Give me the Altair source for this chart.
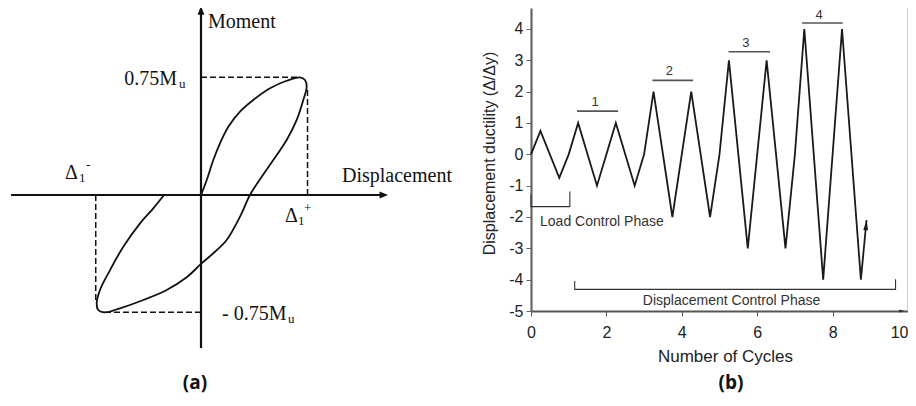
import altair as alt
import pandas as pd

# ---------------- Panel (a): schematic moment-displacement loop ----------------
# displacement in units of Delta1+, moment in units of Mu
loop_x = [0, 0.054, 0.116, 0.179, 0.258, 0.368, 0.493, 0.651, 0.808, 0.934, 0.981, 0.997,
          0.965, 0.903, 0.808, 0.682, 0.573, 0.462, 0.368, 0.242, 0.132, 0.0, -0.135, -0.324,
          -0.544, -0.764, -0.906, -0.969, -0.984, -0.953, -0.858, -0.733, -0.575, -0.45, -0.349]
loop_y = [0, 0.096, 0.223, 0.33, 0.436, 0.532, 0.606, 0.681, 0.729, 0.751, 0.734, 0.691,
          0.606, 0.479, 0.351, 0.223, 0.117, 0, -0.138, -0.287, -0.362, -0.44, -0.525, -0.606,
          -0.67, -0.723, -0.749, -0.734, -0.691, -0.606, -0.479, -0.33, -0.181, -0.085, 0]

axis_x1 = [-1.792, 0]
axis_y1 = [0, -0.976]
axis_x2 = [1.74, 0]
axis_y2 = [0, 1.18]

arrow_right_x = [1.764]
arrow_right_y = [0]
arrow_up_x = [0]
arrow_up_y = [1.206]

dash_x1 = [0, 1.005, -0.993, -0.906]
dash_y1 = [0.751, 0.67, 0, -0.749]
dash_x2 = [0.934, 1.005, -0.993, 0.02]
dash_y2 = [0.751, 0, -0.68, -0.749]

a_text = ["Moment", "Displacement", "u", "u", "Δ", "1", "-", "Δ", "1", "+"]
a_text_x = [0.066, 1.330, -0.208, 0.821, -1.283, -1.151, -1.085, 0.792, 0.915, 0.972]
a_text_y = [1.103, 0.120, 0.710, -0.793, 0.141, 0.107, 0.191, -0.135, -0.165, -0.086]
a_text_size = [20, 20, 13, 13, 20, 13, 13, 20, 13, 13]

a_rtext = ["0.75M", "- 0.75M"]
a_rtext_x = [-0.226, 0.807]
a_rtext_y = [0.739, -0.761]

a_label = ["(a)"]
a_label_x = [-0.057]
a_label_y = [-1.20]

# ---------------- Panel (b): loading protocol ----------------
cycles = [0, 0.25, 0.75, 1, 1.25, 1.75, 2.25, 2.75, 3, 3.25, 3.75, 4.25, 4.75, 5,
          5.25, 5.75, 6.25, 6.75, 7, 7.25, 7.75, 8.25, 8.75, 8.9]
ductility = [0, 0.75, -0.75, 0, 1, -1, 1, -1, 0, 2, -2, 2, -2, 0,
             3, -3, 3, -3, 0, 4, -4, 4, -4, -2.1]

end_arrow_x = [8.9]
end_arrow_y = [-2.1]

level_names = ["1", "2", "3", "4"]
level_bar_x1 = [1.22, 3.22, 5.24, 7.19]
level_bar_x2 = [2.31, 4.30, 6.34, 8.27]
level_bar_y = [1.38, 2.36, 3.275, 4.19]
level_text_x = [1.70, 3.67, 5.70, 7.64]
level_text_y = [1.68, 2.67, 3.56, 4.45]

bracket_x = [0, 0, 1.03, 1.03, 1.16, 1.16, 9.67, 9.67]
bracket_y = [-1.28, -1.67, -1.67, -1.19, -4.04, -4.31, -4.31, -3.99]
bracket_g = ["load"] * 4 + ["disp"] * 4

phase_left_text = ["Load Control Phase"]
phase_left_x = [0.24]
phase_left_y = [-2.15]
phase_center_text = ["Displacement Control Phase"]
phase_center_x = [5.32]
phase_center_y = [-4.67]

border_x = [10]
xaxis_arrow_x = [9.92]
xaxis_arrow_y = [-5]

b_label = ["(b)"]
b_label_x = [5.305]
b_label_y = [-7.30]

x_ticks = [0, 2, 4, 6, 8, 10]
y_ticks = [-5, -4, -3, -2, -1, 0, 1, 2, 3, 4]

# ---------------- scales ----------------
AXS = alt.Scale(domain=[0, 1], range=[201 - 531, 307 - 531], nice=False, zero=False)
AYS = alt.Scale(domain=[0, 1], range=[187, 30.3], nice=False, zero=False)


def ax(f="x"):
    return alt.X(f"{f}:Q", scale=AXS, axis=None)


def ay(f="y"):
    return alt.Y(f"{f}:Q", scale=AYS, axis=None)


SANS = "Liberation Sans"
SERIF = "Liberation Serif"

XAXIS = alt.Axis(values=x_ticks, title="Number of Cycles", grid=False, labelFlush=False,
                 labelOverlap=False, labelExpr="datum.value + ''",
                 labelAlign={"condition": {"test": "datum.value == 10", "value": "right"},
                             "value": "center"},
                 labelFontSize=16, titleFontSize=17, titleFontWeight="normal",
                 labelFont=SANS, titleFont=SANS, tickSize=5, labelPadding=8,
                 domainColor="#555", domainWidth=2, tickColor="#555", tickWidth=1,
                 labelColor="#222", titleColor="#222", titleBaseline="middle",
                 titleX=194, titleY=45.5)
YAXIS = alt.Axis(values=y_ticks, title="Displacement ductility (Δ/Δy)", grid=False,
                 labelFlush=False, labelOverlap=False, labelExpr="datum.value + ''",
                 labelFontSize=16, titleFontSize=16,
                 titleFontWeight="normal", labelFont=SANS, titleFont=SANS, tickSize=5,
                 labelPadding=3, domainColor="#666", domainWidth=2.2, tickColor="#666",
                 tickWidth=1, labelColor="#222", titleColor="#222", titleBaseline="middle",
                 titleAngle=270, titleX=-42, titleY=145)
BXS = alt.Scale(domain=[0, 10], nice=False, zero=False)
BYS = alt.Scale(domain=[-5, 4.67], nice=False, zero=False)


def bx(f="x"):
    return alt.X(f"{f}:Q", scale=BXS, axis=XAXIS)


def by(f="y"):
    return alt.Y(f"{f}:Q", scale=BYS, axis=YAXIS)


# ---------------- panel (a) layers ----------------
loop_df = pd.DataFrame({"x": loop_x, "y": loop_y, "o": list(range(len(loop_x)))})
loop = alt.Chart(loop_df).mark_line(color="#111", strokeWidth=1.8, interpolate="catmull-rom").encode(
    x=ax(), y=ay(), order="o:Q")

axes_df = pd.DataFrame({"x": axis_x1, "y": axis_y1, "x2": axis_x2, "y2": axis_y2})
axes_a = alt.Chart(axes_df).mark_rule(color="#111", strokeWidth=2.2).encode(
    x=ax(), y=ay(), x2="x2:Q", y2="y2:Q")

arr_r = alt.Chart(pd.DataFrame({"x": arrow_right_x, "y": arrow_right_y})).mark_point(
    shape="M0,0 L-2.1,-0.9 L-2.1,0.9 Z", size=64, filled=True, color="#111", opacity=1,
    strokeWidth=0).encode(x=ax(), y=ay())
arr_u = alt.Chart(pd.DataFrame({"x": arrow_up_x, "y": arrow_up_y})).mark_point(
    shape="M0,0 L-0.85,2.2 L0.85,2.2 Z", size=64, filled=True, color="#111", opacity=1,
    strokeWidth=0).encode(x=ax(), y=ay())

dash_df = pd.DataFrame({"x": dash_x1, "y": dash_y1, "x2": dash_x2, "y2": dash_y2})
dashes = alt.Chart(dash_df).mark_rule(color="#111", strokeWidth=1.5, strokeDash=[6, 3]).encode(
    x=ax(), y=ay(), x2="x2:Q", y2="y2:Q")

at_df = pd.DataFrame({"t": a_text, "x": a_text_x, "y": a_text_y, "s": a_text_size})
a_texts = alt.Chart(at_df).mark_text(align="left", baseline="middle", font=SERIF, color="#111").encode(
    x=ax(), y=ay(), text="t:N", size=alt.Size("s:Q", scale=None, legend=None))

art_df = pd.DataFrame({"t": a_rtext, "x": a_rtext_x, "y": a_rtext_y})
a_rtexts = alt.Chart(art_df).mark_text(align="right", baseline="middle", font=SERIF, fontSize=20,
                                       color="#111").encode(x=ax(), y=ay(), text="t:N")

a_lab = alt.Chart(pd.DataFrame({"t": a_label, "x": a_label_x, "y": a_label_y})).mark_text(
    align="center", baseline="middle", font="Open Sans", fontSize=19, fontWeight="bold",
    color="#111").encode(x=ax(), y=ay(), text="t:N")

panel_a = alt.layer(loop, axes_a, arr_r, arr_u, dashes, a_texts, a_rtexts, a_lab)

# ---------------- panel (b) layers ----------------
zz_df = pd.DataFrame({"x": cycles, "y": ductility, "o": list(range(len(cycles)))})
zigzag = alt.Chart(zz_df).mark_line(color="#1a1a1a", strokeWidth=1.8).encode(
    x=bx(), y=by(), order="o:Q")

end_arrow = alt.Chart(pd.DataFrame({"x": end_arrow_x, "y": end_arrow_y})).mark_point(
    shape="M0,0 L-1.2,5 L1.2,5 Z", size=16, filled=True, color="#1a1a1a", opacity=1,
    strokeWidth=0, angle=5).encode(x=bx(), y=by())

bars_df = pd.DataFrame({"x": level_bar_x1, "x2": level_bar_x2, "y": level_bar_y})
bars = alt.Chart(bars_df).mark_rule(color="#555", strokeWidth=1.6).encode(
    x=bx(), x2="x2:Q", y=by())

lt_df = pd.DataFrame({"t": level_names, "x": level_text_x, "y": level_text_y})
level_text = alt.Chart(lt_df).mark_text(align="center", baseline="middle", font=SANS, fontSize=13,
                                        color="#333").encode(x=bx(), y=by(), text="t:N")

br_df = pd.DataFrame({"x": bracket_x, "y": bracket_y, "g": bracket_g,
                      "o": list(range(len(bracket_x)))})
brackets = alt.Chart(br_df).mark_line(color="#333", strokeWidth=1.1).encode(
    x=bx(), y=by(), detail="g:N", order="o:Q")

pl = alt.Chart(pd.DataFrame({"t": phase_left_text, "x": phase_left_x, "y": phase_left_y})).mark_text(
    align="left", baseline="middle", font=SANS, fontSize=14, color="#333").encode(
    x=bx(), y=by(), text="t:N")
pc = alt.Chart(pd.DataFrame({"t": phase_center_text, "x": phase_center_x, "y": phase_center_y})).mark_text(
    align="center", baseline="middle", font=SANS, fontSize=14, color="#333").encode(
    x=bx(), y=by(), text="t:N")

border = alt.Chart(pd.DataFrame({"x": border_x})).mark_rule(color="#999", strokeWidth=1).encode(
    x=bx())

xa_arrow = alt.Chart(pd.DataFrame({"x": xaxis_arrow_x, "y": xaxis_arrow_y})).mark_point(
    shape="M0,0 L-3,-0.8 L-3,0.8 Z", size=16, filled=True, color="#333", opacity=1,
    strokeWidth=0).encode(x=bx(), y=by())

b_lab = alt.Chart(pd.DataFrame({"t": b_label, "x": b_label_x, "y": b_label_y})).mark_text(
    align="center", baseline="middle", font="Open Sans", fontSize=19, fontWeight="bold",
    color="#111").encode(x=bx(), y=by(), text="t:N")

panel_b = alt.layer(zigzag, end_arrow, bars, level_text, brackets, pl, pc, border, xa_arrow, b_lab)

chart = alt.layer(panel_a, panel_b).resolve_scale(
    x="independent", y="independent"
).properties(
    width=377, height=303,
    padding={"left": 523, "top": 0, "right": 0, "bottom": 85},
    autosize=alt.AutoSizeParams(type="none"),
).configure_view(stroke=None)

chart.save("out.html", embed_options={"renderer": "svg", "actions": False})
